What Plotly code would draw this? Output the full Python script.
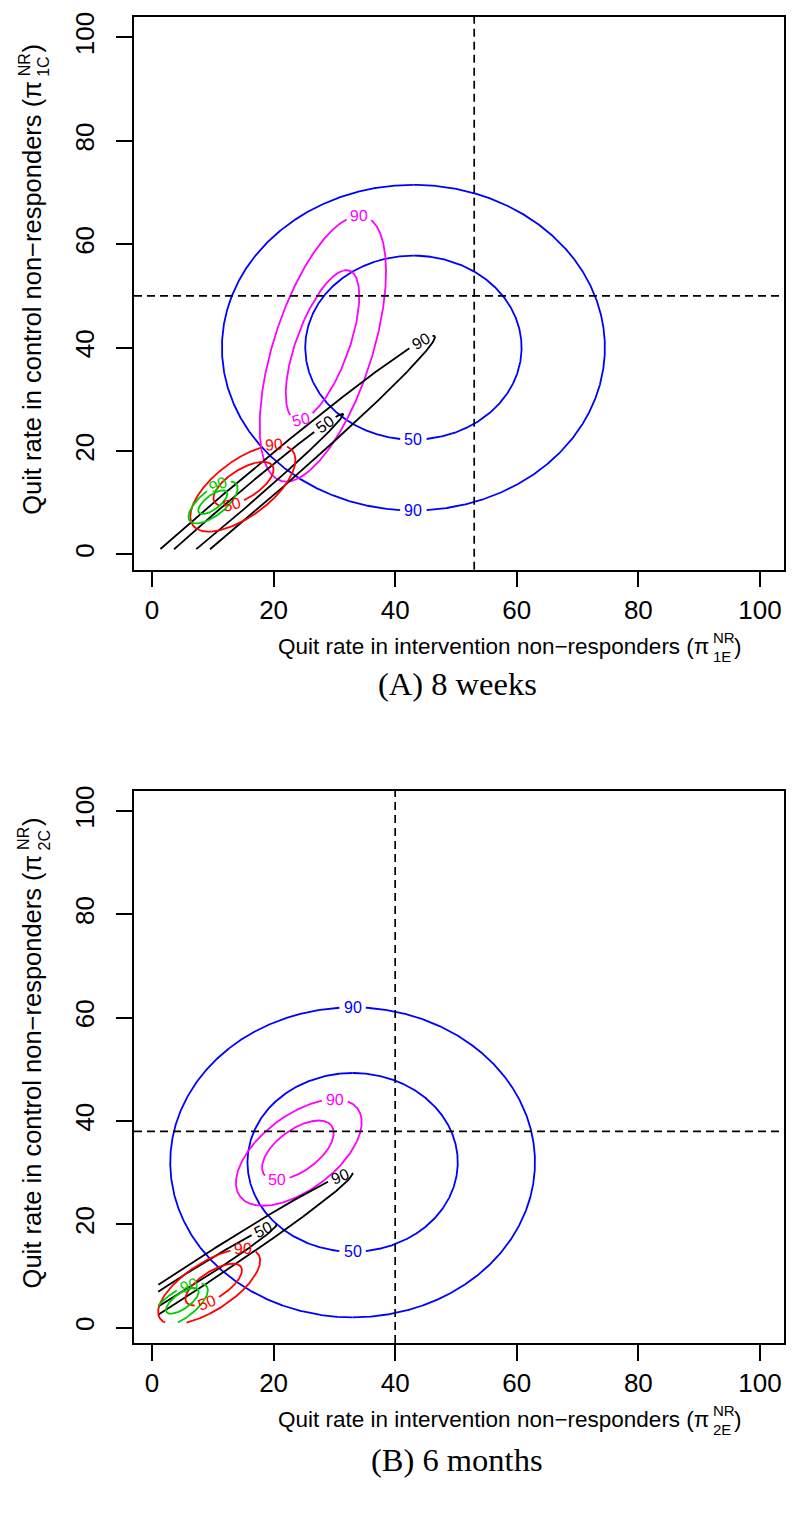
import numpy as np
import plotly.graph_objects as go

# ---------------- data ----------------
TICKS = [0, 20, 40, 60, 80, 100]
GRID_MIN, GRID_MAX = 1, 100          # range over which the densities were evaluated

# Panel A (8 weeks) -- reference point shown by dashed lines
A_ref_x, A_ref_y = 53, 50
# one entry per contour line (posterior highest-density regions, 90% and 50%)
A_series = ["blue", "blue", "magenta", "magenta", "black", "black", "red", "red", "green", "green"]
A_level = [90, 50, 90, 50, 90, 50, 90, 50, 90, 50]
A_cx = [43.0, 43.0, 28.1, 28.05, 13.15, 13.15, 14.95, 15.05, 10.05, 10.0]
A_cy = [40.0, 40.0, 39.8, 40.5, 8.8, 8.8, 12.8, 13.65, 10.05, 10.1]
A_ax = [31.5, 17.8, 10.4, 6.05, 33.4, 18.3, 8.65, 4.95, 4.05, 2.4]
A_ay = [31.5, 17.8, 25.7, 14.5, 33.5, 18.4, 8.4, 4.25, 4.05, 2.3]
A_rho = [0.0, 0.0, 0.58, 0.65, 0.992, 0.994, 0.65, 0.65, 0.68, 0.70]

# Panel B (6 months)
B_ref_x, B_ref_y = 40, 38
B_series = ["blue", "blue", "magenta", "magenta", "black", "black", "red", "red", "green", "green"]
B_level = [90, 50, 90, 50, 90, 50, 90, 50, 90, 50]
B_cx = [33.0, 33.0, 24.15, 24.0, 6.0, 6.0, 9.4, 10.15, 4.5, 5.0]
B_cy = [32.0, 32.0, 33.9, 34.35, 9.2, 9.2, 8.0, 8.35, 4.3, 5.2]
B_ax = [30.0, 17.3, 10.35, 5.9, 27.0, 14.5, 8.4, 4.65, 4.7, 2.7]
B_ay = [30.0, 17.3, 10.3, 5.75, 20.8, 10.8, 7.3, 4.05, 4.3, 2.5]
B_rho = [0.0, 0.0, 0.57, 0.58, 0.99, 0.99, 0.68, 0.68, 0.68, 0.70]

X_TITLE = ["Quit rate in intervention non\u2212responders (\u03c0", "NR", "1E", ")"]
X_TITLE_B = ["Quit rate in intervention non\u2212responders (\u03c0", "NR", "2E", ")"]
Y_TITLE = ["Quit rate in control non\u2212responders (\u03c0", "NR", "1C", ")"]
Y_TITLE_B = ["Quit rate in control non\u2212responders (\u03c0", "NR", "2C", ")"]
CAPTIONS = ["(A) 8 weeks", "(B) 6 months"]

# ---------------- style ----------------
COLORS = {"blue": "#0000FF", "magenta": "#FF00FF", "black": "#000000",
          "red": "#FF0000", "green": "#00CD00"}
# where (parametric angle, degrees) each contour label sits; None = no label
A_label_t = [-90, -90, 55, -125, 21.7, 33.5, 53.5, -113, 78, None]
B_label_t = [90, -90, 55, -126, 22.8, 32, 48, -103, 71, None]

SANS = "Liberation Sans, Arial, Helvetica, sans-serif"
SERIF = "Liberation Serif, Times New Roman, serif"

FIG_W, FIG_H = 800, 1514
M_L, M_R, M_T, M_B = 134, 16, 14, 171
PLOT_W = FIG_W - M_L - M_R
PLOT_H = FIG_H - M_T - M_B
A_TOP, A_BOT = 14, 568
B_TOP, B_BOT = 789.3, FIG_H - M_B
pad = 0.04 * (GRID_MAX - GRID_MIN)
RANGE = [GRID_MIN - pad, GRID_MAX + pad]
SPAN = RANGE[1] - RANGE[0]
KX = PLOT_W / SPAN


def px2paper_x(px):
    return (px - M_L) / PLOT_W


def py2paper_y(py):
    return (FIG_H - M_B - py) / PLOT_H


fig = go.Figure()
GAP = 13
LABEL_SIZE = 16
LINE_W = 1.8


def add_panel(series, level, cx, cy, ax_, ay_, rho, label_t, xa, ya, ky):
    for i in range(len(series)):
        n = 2001
        t0 = np.radians(label_t[i]) if label_t[i] is not None else 0.0
        t = t0 + np.linspace(-np.pi, np.pi, n)
        s = np.sqrt(1 - rho[i] ** 2)
        x = cx[i] + ax_[i] * np.cos(t)
        y = cy[i] + ay_[i] * (rho[i] * np.cos(t) + s * np.sin(t))
        px, py = x * KX, -y * ky
        arc = np.concatenate([[0], np.cumsum(np.hypot(np.diff(px), np.diff(py)))])
        mask = (x < GRID_MIN) | (x > GRID_MAX) | (y < GRID_MIN) | (y > GRID_MAX)
        color = COLORS[series[i]]
        if label_t[i] is not None:
            mid = n // 2
            mask |= np.abs(arc - arc[mid]) < GAP
            dx = -ax_[i] * np.sin(t0)
            dy = ay_[i] * (-rho[i] * np.sin(t0) + s * np.cos(t0))
            ang = np.degrees(np.arctan2(-dy * ky, dx * KX))
            while ang > 90:
                ang -= 180
            while ang <= -90:
                ang += 180
            fig.add_annotation(x=x[mid], y=y[mid], xref=xa, yref=ya, text=str(level[i]),
                               textangle=float(ang), showarrow=False,
                               font=dict(family=SANS, size=LABEL_SIZE, color=color))
        x = np.where(mask, np.nan, x)
        y = np.where(mask, np.nan, y)
        fig.add_trace(go.Scatter(x=x, y=y, mode="lines", xaxis=xa, yaxis=ya,
                                 line=dict(color=color, width=LINE_W),
                                 hoverinfo="skip", showlegend=False))


KY_A = (A_BOT - A_TOP) / SPAN
KY_B = (B_BOT - B_TOP) / SPAN
add_panel(A_series, A_level, A_cx, A_cy, A_ax, A_ay, A_rho, A_label_t, "x", "y", KY_A)
add_panel(B_series, B_level, B_cx, B_cy, B_ax, B_ay, B_rho, B_label_t, "x2", "y2", KY_B)

# dashed reference lines
dash = dict(color="black", width=1.7, dash="8px,5px")
for xr, yr, xa, ya in [(A_ref_x, A_ref_y, "x", "y"), (B_ref_x, B_ref_y, "x2", "y2")]:
    fig.add_shape(type="line", x0=xr, x1=xr, y0=0, y1=1, xref=xa, yref=ya + " domain", line=dash)
    fig.add_shape(type="line", x0=0, x1=1, y0=yr, y1=yr, xref=xa + " domain", yref=ya, line=dash)

axis_common = dict(range=RANGE, tickmode="array", tickvals=TICKS, ticktext=[str(v) for v in TICKS],
                   ticks="outside", ticklen=16, tickwidth=1.5, tickcolor="black",
                   showline=True, linecolor="black", linewidth=1.5, mirror=True,
                   showgrid=False, zeroline=False,
                   tickfont=dict(family=SANS, size=26, color="black"))

fig.update_layout(
    width=FIG_W, height=FIG_H, paper_bgcolor="white", plot_bgcolor="white",
    margin=dict(l=M_L, r=M_R, t=M_T, b=M_B),
    xaxis=dict(axis_common, domain=[0, 1], anchor="y", ticklabelstandoff=0),
    yaxis=dict(axis_common, domain=[py2paper_y(A_BOT), 1], anchor="x", tickangle=-90, ticklabelstandoff=12),
    xaxis2=dict(axis_common, domain=[0, 1], anchor="y2", ticklabelstandoff=0),
    yaxis2=dict(axis_common, domain=[0, py2paper_y(B_TOP)], anchor="x2", tickangle=-90, ticklabelstandoff=12),
    showlegend=False,
)


def add_x_title(parts, py):
    main, sup, sub, close = parts
    end = 711
    fig.add_annotation(x=px2paper_x(end), y=py2paper_y(py), xref="paper", yref="paper",
                       text=main, showarrow=False, xanchor="right", yanchor="middle",
                       font=dict(family=SANS, size=22.5, color="black"))
    fig.add_annotation(x=px2paper_x(end), y=py2paper_y(py - 9), xref="paper", yref="paper",
                       text=sup, showarrow=False, xanchor="left", yanchor="middle",
                       font=dict(family=SANS, size=15, color="black"))
    fig.add_annotation(x=px2paper_x(end), y=py2paper_y(py + 10), xref="paper", yref="paper",
                       text=sub, showarrow=False, xanchor="left", yanchor="middle",
                       font=dict(family=SANS, size=15, color="black"))
    fig.add_annotation(x=px2paper_x(end + 21), y=py2paper_y(py), xref="paper", yref="paper",
                       text=close, showarrow=False, xanchor="left", yanchor="middle",
                       font=dict(family=SANS, size=22.5, color="black"))


def add_y_title(parts, top_py):
    main, sup, sub, close = parts
    cx = 32
    fig.add_annotation(x=px2paper_x(cx), y=py2paper_y(top_py), xref="paper", yref="paper",
                       text=main, showarrow=False, xanchor="center", yanchor="top", textangle=-90,
                       font=dict(family=SANS, size=25.5, color="black"))
    fig.add_annotation(x=px2paper_x(cx - 8), y=py2paper_y(top_py), xref="paper", yref="paper",
                       text=sup, showarrow=False, xanchor="center", yanchor="bottom", textangle=-90,
                       font=dict(family=SANS, size=16, color="black"))
    fig.add_annotation(x=px2paper_x(cx + 12), y=py2paper_y(top_py), xref="paper", yref="paper",
                       text=sub, showarrow=False, xanchor="center", yanchor="bottom", textangle=-90,
                       font=dict(family=SANS, size=16, color="black"))
    fig.add_annotation(x=px2paper_x(cx), y=py2paper_y(top_py - 24), xref="paper", yref="paper",
                       text=close, showarrow=False, xanchor="center", yanchor="bottom", textangle=-90,
                       font=dict(family=SANS, size=25.5, color="black"))


add_x_title(X_TITLE, 645)
add_x_title(X_TITLE_B, 1420)
add_y_title(Y_TITLE, 76)
add_y_title(Y_TITLE_B, 76 + (B_TOP - A_TOP))

for cap, py in zip(CAPTIONS, [683, 1460]):
    fig.add_annotation(x=px2paper_x(457), y=py2paper_y(py), xref="paper", yref="paper",
                       text=cap, showarrow=False, xanchor="center", yanchor="middle",
                       font=dict(family=SERIF, size=32.5, color="black"))

fig.write_html("out.html", config={"displayModeBar": False},
               post_script="document.body.style.margin='0';")
